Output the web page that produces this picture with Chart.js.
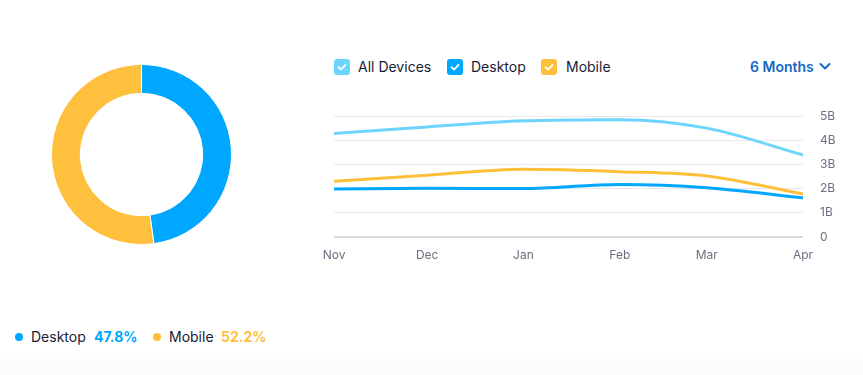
<!DOCTYPE html>
<html>
<head>
<meta charset="utf-8">
<script src="https://cdn.jsdelivr.net/npm/chart.js@4/dist/chart.umd.min.js"></script>
<style>
  html, body { margin: 0; padding: 0; background: #fff; }
  body { width: 863px; height: 375px; position: relative; overflow: hidden; font-family: Inter, "Noto Sans", sans-serif; color: #1a1c35; }
  .abs { position: absolute; }
  .chk { width: 16px; height: 16px; border-radius: 3px; }
  .lbl { font-size: 14px; line-height: 16px; white-space: nowrap; }
  .dot { width: 8px; height: 8px; border-radius: 50%; }
  .footer { left: 0; top: 359px; width: 863px; height: 16px; background: #fbfbfb; }
</style>
</head>
<body>
<div class="abs footer"></div>
<div class="abs" style="left:51px; top:64px; width:181px; height:181px;"><canvas id="donut"></canvas></div>
<div class="abs" style="left:314px; top:100px; width:539px; height:167px;"><canvas id="line"></canvas></div>

<div id="legend"></div>
<div id="share"></div>

<div class="abs lbl" style="left:750px; top:59px; color:#1467c4; font-weight:600;">6 Months</div>
<svg class="abs" style="left:819px; top:62px;" width="12" height="9" viewBox="0 0 12 9"><path d="M1.5 2 L6 6.5 L10.5 2" fill="none" stroke="#1467c4" stroke-width="2" stroke-linecap="round" stroke-linejoin="round"/></svg>

<script>
// ---- data ----
const months = ['Nov', 'Dec', 'Jan', 'Feb', 'Mar', 'Apr'];
const dayOffsets = [0, 30, 61, 92, 120, 151];
const allDevices = [4.28, 4.55, 4.80, 4.85, 4.50, 3.39];
const desktop = [1.98, 2.01, 2.00, 2.17, 2.04, 1.62];
const mobile = [2.30, 2.55, 2.80, 2.70, 2.52, 1.78];
const yTicks = [0, 1, 2, 3, 4, 5];
const shareLabels = ['Desktop', 'Mobile'];
const shareValues = [47.8, 52.2];

const C_ALL = '#6dd4fd', C_DESK = '#00a7ff', C_MOB = '#ffbf3b';

// legend (checkboxes)
const legendItems = [
  { name: 'All Devices', color: C_ALL, box: 334, text: 358 },
  { name: 'Desktop', color: C_DESK, box: 447, text: 471 },
  { name: 'Mobile', color: C_MOB, box: 541, text: 566 }
];
const lg = document.getElementById('legend');
legendItems.forEach(it => {
  lg.insertAdjacentHTML('beforeend',
    `<div class="abs chk" style="left:${it.box}px; top:59px; background:${it.color};"></div>
     <svg class="abs" style="left:${it.box}px; top:59px;" width="16" height="16" viewBox="0 0 16 16"><path d="M4.5 8.2 L7 10.6 L11.5 5.8" fill="none" stroke="#fff" stroke-width="1.8" stroke-linecap="round" stroke-linejoin="round"/></svg>
     <div class="abs lbl" style="left:${it.text}px; top:59px;">${it.name}</div>`);
});

// share legend
const sh = document.getElementById('share');
const shareColors = [C_DESK, '#fec03d'];
const sharePos = [{ dot: 15, name: 31, val: 94 }, { dot: 153, name: 169, val: 221 }];
shareLabels.forEach((n, i) => {
  const p = sharePos[i];
  sh.insertAdjacentHTML('beforeend',
    `<div class="abs dot" style="left:${p.dot}px; top:333px; background:${shareColors[i]};"></div>
     <div class="abs lbl" style="left:${p.name}px; top:329px;">${n}</div>
     <div class="abs lbl" style="left:${p.val}px; top:329px; color:${shareColors[i]}; font-weight:700;">${shareValues[i].toFixed(1)}%</div>`);
});

// donut
new Chart(document.getElementById('donut'), {
  type: 'doughnut',
  data: {
    labels: shareLabels,
    datasets: [{ data: shareValues, backgroundColor: [C_DESK, '#fec03d'], borderColor: '#ffffff', borderWidth: 1 }]
  },
  options: {
    responsive: true, maintainAspectRatio: false, animation: false,
    cutout: '68%',
    plugins: { legend: { display: false }, tooltip: { enabled: false } }
  }
});

// line chart
const pts = arr => arr.map((v, i) => ({ x: dayOffsets[i], y: v }));
new Chart(document.getElementById('line'), {
  type: 'line',
  data: {
    datasets: [
      { label: 'All Devices', data: pts(allDevices), borderColor: C_ALL },
      { label: 'Mobile', data: pts(mobile), borderColor: C_MOB },
      { label: 'Desktop', data: pts(desktop), borderColor: C_DESK }
    ].map(d => Object.assign(d, { borderWidth: 3, pointRadius: 0, fill: false, cubicInterpolationMode: 'monotone' }))
  },
  options: {
    responsive: true, maintainAspectRatio: false, animation: false,
    layout: { padding: { left: 20, top: 16, right: 0, bottom: 0 } },
    plugins: { legend: { display: false }, tooltip: { enabled: false } },
    scales: {
      x: {
        type: 'linear', min: dayOffsets[0], max: dayOffsets[dayOffsets.length - 1],
        afterBuildTicks: s => { s.ticks = dayOffsets.map(v => ({ value: v })); },
        afterFit: s => { s.height = 30; s.paddingLeft = 0; s.paddingRight = 0; },
        grid: { display: false, drawTicks: false },
        border: { display: false },
        ticks: {
          padding: 11, maxRotation: 0, autoSkip: false,
          color: '#6d6f80', font: { family: 'Inter', size: 12 },
          callback: v => { const i = dayOffsets.indexOf(v); return i >= 0 ? months[i] : ''; }
        }
      },
      y: {
        position: 'right', min: 0, max: 5,
        afterBuildTicks: s => { s.ticks = yTicks.map(v => ({ value: v })); },
        afterFit: s => { s.width = 50; s.paddingTop = 0; s.paddingBottom = 0; },
        grid: {
          drawTicks: false,
          color: c => c.tick && c.tick.value === 0 ? '#d7d9de' : '#e7e8ee',
          lineWidth: c => c.tick && c.tick.value === 0 ? 2 : 1
        },
        border: { display: false },
        ticks: {
          padding: 17, color: '#6d6f80', font: { family: 'Inter', size: 12 },
          callback: v => v === 0 ? '0' : v + 'B'
        }
      }
    }
  }
});
</script>
</body>
</html>
